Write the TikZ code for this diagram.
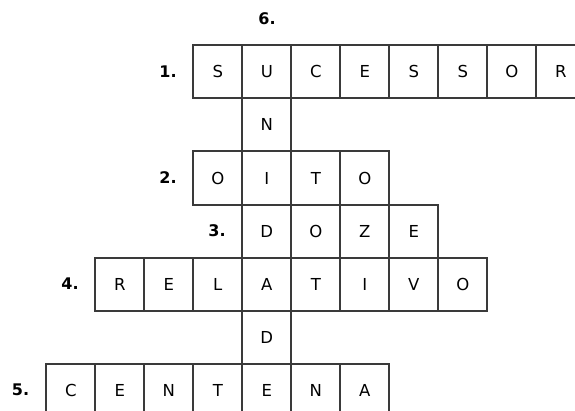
\documentclass[tikz,border=0pt]{standalone}
\usepackage{fontspec}
\setmainfont{DejaVu Sans}
\definecolor{gridc}{HTML}{3A3A3A}
\begin{document}
\begin{tikzpicture}[x=1pt,y=-1pt,
  cell/.style={draw=gridc,line width=2pt,minimum width=49pt,minimum height=53.2pt,inner sep=0pt,anchor=north west,font=\fontsize{16.5}{19}\selectfont},
  num/.style={font=\bfseries\fontsize{16}{19}\selectfont,inner sep=0pt}]
\useasboundingbox (0,0) rectangle (575,410);
\clip (0,0) rectangle (575,410);
\def\cx#1{45.3+49*#1}
\def\ry#1{44+53.2*#1}
% row 1: SUCESSOR cols 3-10
\foreach \L [count=\i from 3] in {S,U,C,E,S,S,O,R}
  \node[cell] (a\i) at ({\cx{\i}},{\ry{0}}) {\L};
% N
\node[cell] (b4) at ({\cx{4}},{\ry{1}}) {N};
% row 2: OITO cols 3-6
\foreach \L [count=\i from 3] in {O,I,T,O}
  \node[cell] (c\i) at ({\cx{\i}},{\ry{2}}) {\L};
% row 3: DOZE cols 4-7
\foreach \L [count=\i from 4] in {D,O,Z,E}
  \node[cell] (d\i) at ({\cx{\i}},{\ry{3}}) {\L};
% row 4: RELATIVO cols 1-8
\foreach \L [count=\i from 1] in {R,E,L,A,T,I,V,O}
  \node[cell] (e\i) at ({\cx{\i}},{\ry{4}}) {\L};
% D
\node[cell] (f4) at ({\cx{4}},{\ry{5}}) {D};
% row 5: CENTENA cols 0-6
\foreach \L [count=\i from 0] in {C,E,N,T,E,N,A}
  \node[cell] (g\i) at ({\cx{\i}},{\ry{6}}) {\L};
% labels
\node[num] (n6) at (267,19) {6.};
\node[num] (n1) at (168,72) {1.};
\node[num] (n2) at (168,178) {2.};
\node[num] (n3) at (217,231) {3.};
\node[num] (n4) at (70,284) {4.};
\node[num] (n5) at (20.5,390) {5.};
\end{tikzpicture}
\end{document}
